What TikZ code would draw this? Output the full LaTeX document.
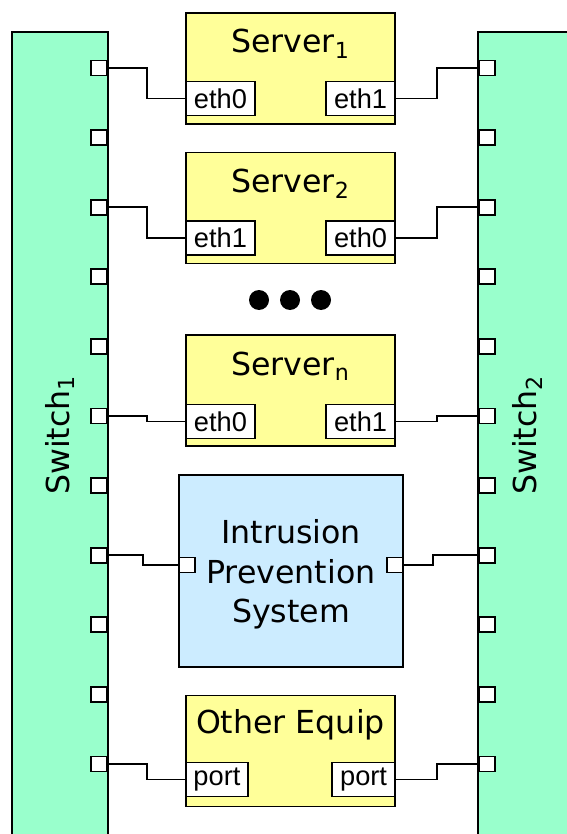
\documentclass[tikz,border=0pt]{standalone}
\usepackage{fontspec}
\setmainfont{DejaVu Sans}
\newfontfamily\portfont{Liberation Sans}
\usetikzlibrary{positioning}
\definecolor{swgreen}{HTML}{99FFCC}
\definecolor{srvyellow}{HTML}{FFFF99}
\definecolor{ipsblue}{HTML}{CCECFF}
\tikzset{
  switch/.style={draw, line width=1pt, fill=swgreen, minimum width=1.92cm,
                 minimum height=16.4cm, inner sep=0pt},
  swport/.style={draw, line width=1pt, fill=white, minimum width=0.32cm,
                 minimum height=0.3cm, inner sep=0pt},
  box/.style={draw, line width=1pt, fill=#1, minimum width=4.18cm,
              minimum height=2.22cm, inner sep=0pt},
  ttl/.style={font=\fontsize{18}{21}\selectfont, align=center},
  eth/.style={draw, line width=0.9pt, fill=white, minimum width=1.38cm,
              minimum height=0.68cm, inner sep=0pt, font=\portfont\fontsize{15.5}{17}\selectfont},
  wire/.style={line width=1pt}
}
\begin{document}
\begin{tikzpicture}[x=0.02cm, y=-0.02cm]
  \useasboundingbox (0,0) rectangle (566,834);
  % switches
  \node[switch] (sw1) at (60,442) {};
  \node[switch] (sw2) at (526,442) {};
  \node[ttl, rotate=90] at (60,435) {Switch\textsubscript{1}};
  \node[ttl, rotate=90] at (527,435) {Switch\textsubscript{2}};
  \foreach \i [evaluate=\i as \y using 68+69.6*\i] in {0,...,10} {
    \node[swport, anchor=east] (swa\i) at (108,\y) {};
    \node[swport, anchor=west] (swb\i) at (478,\y) {};
  }
  % servers
  \node[box=srvyellow] (s1) at (290.5,68.5) {};
  \node[ttl] at (290.5,44) {Server\textsubscript{1}};
  \node[eth, anchor=south west] (s1a) at (s1.south west) [yshift=0.17cm] {eth0};
  \node[eth, anchor=south east] (s1b) at (s1.south east) [yshift=0.17cm] {eth1};
  \node[box=srvyellow] (s2) at (290.5,208) {};
  \node[ttl] at (290.5,184) {Server\textsubscript{2}};
  \node[eth, anchor=south west] (s2a) at (s2.south west) [yshift=0.17cm] {eth1};
  \node[eth, anchor=south east] (s2b) at (s2.south east) [yshift=0.17cm] {eth0};
  \foreach \x in {259,290,321}
    \fill (\x,300) circle[radius=10];
  \node[box=srvyellow] (sn) at (290.5,390.5) {};
  \node[ttl] at (290.5,366) {Server\textsubscript{n}};
  \node[eth, anchor=south west] (sna) at (sn.south west) [yshift=0.15cm] {eth0};
  \node[eth, anchor=south east] (snb) at (sn.south east) [yshift=0.15cm] {eth1};
  % IPS
  \node[box=ipsblue, minimum width=4.48cm, minimum height=3.84cm] (ips) at (291,571) {};
  \node[ttl, text depth=0pt] at (291,571) {Intrusion\\[1.5pt] Prevention\\[1.5pt] System};
  \node[swport, anchor=west] (ipsa) at (ips.west |- 0,565) {};
  \node[swport, anchor=east] (ipsb) at (ips.east |- 0,565) {};
  % other equipment
  \node[box=srvyellow] (oe) at (290.5,751) {};
  \node[ttl] at (290.5,725) {Other Equip};
  \node[eth, minimum width=1.24cm, anchor=south west] (oea) at (oe.south west) [yshift=0.2cm] {port};
  \node[eth, minimum width=1.26cm, anchor=south east] (oeb) at (oe.south east) [yshift=0.2cm] {port};
  % wiring
  \draw[wire] (swa0.east) -- ++(39,0) |- (s1a.west);
  \draw[wire] (s1b.east) -- ++(41,0) |- (swb0.west);
  \draw[wire] (swa2.east) -- ++(39,0) |- (s2a.west);
  \draw[wire] (s2b.east) -- ++(41,0) |- (swb2.west);
  \draw[wire] (swa5.east) -- ++(39,0) |- (sna.west);
  \draw[wire] (snb.east) -- ++(41,0) |- (swb5.west);
  \draw[wire] (swa7.east) -- ++(35,0) |- (ipsa.west);
  \draw[wire] (ipsb.east) -- ++(29,0) |- (swb7.west);
  \draw[wire] (swa10.east) -- ++(39,0) |- (oea.west);
  \draw[wire] (oeb.east) -- ++(41,0) |- (swb10.west);
\end{tikzpicture}
\end{document}
